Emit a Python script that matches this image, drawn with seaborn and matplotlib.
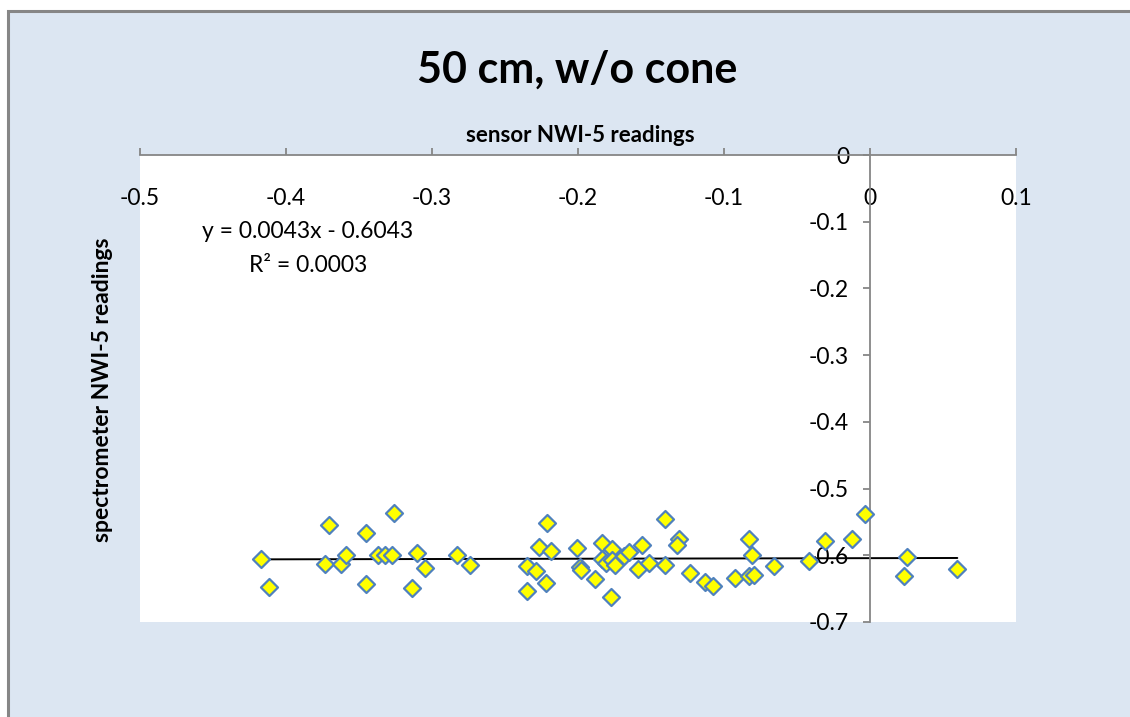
import numpy as np
import pandas as pd
import seaborn as sns
import matplotlib.pyplot as plt
from matplotlib.patches import Rectangle

sns.set_style('white')
plt.rcParams['font.family'] = ['Lato', 'DejaVu Sans']
plt.rcParams['axes.unicode_minus'] = False
plt.rcParams.update({'text.color': 'black', 'xtick.color': 'black', 'ytick.color': 'black'})

# sensor vs spectrometer readings
sensor = [-0.417, -0.4116, -0.3708, -0.373, -0.3625, -0.359, -0.3455, -0.3455,
          -0.3367, -0.332, -0.3274, -0.3263, -0.310, -0.305, -0.3137, -0.2829,
          -0.274, -0.2351, -0.2351, -0.2288, -0.2269, -0.2214, -0.2219, -0.2183,
          -0.2004, -0.1986, -0.1979, -0.1884, -0.1836, -0.1836, -0.1808, -0.1771,
          -0.1767, -0.1765, -0.1747, -0.1685, -0.165, -0.1589, -0.1559, -0.1514,
          -0.1404, -0.1402, -0.1306, -0.132, -0.1231, -0.1130, -0.1073, -0.0927,
          -0.0829, -0.0808, -0.0831, -0.0792, -0.0660, -0.0420, -0.0306, -0.0125,
          -0.0032, 0.0251, 0.0235, 0.0598]
spectro = [-0.606, -0.647, -0.555, -0.613, -0.613, -0.599, -0.567, -0.643,
           -0.600, -0.600, -0.599, -0.537, -0.597, -0.619, -0.649, -0.600,
           -0.615, -0.616, -0.653, -0.623, -0.588, -0.551, -0.641, -0.594,
           -0.589, -0.618, -0.622, -0.636, -0.581, -0.605, -0.611, -0.663,
           -0.591, -0.607, -0.614, -0.601, -0.595, -0.620, -0.584, -0.611,
           -0.545, -0.615, -0.575, -0.584, -0.626, -0.640, -0.646, -0.634,
           -0.575, -0.599, -0.631, -0.630, -0.616, -0.609, -0.579, -0.575,
           -0.538, -0.602, -0.631, -0.621]
slope, intercept, r2 = 0.0043, -0.6043, 0.0003
xticks = [-0.5, -0.4, -0.3, -0.2, -0.1, 0, 0.1]
yticks = [-0.7, -0.6, -0.5, -0.4, -0.3, -0.2, -0.1, 0]

df = pd.DataFrame({'sensor': sensor, 'spectro': spectro})

W, H = 1130, 717
fig = plt.figure(figsize=(W / 100, H / 100), dpi=100, facecolor='white')
fig.patches.append(Rectangle((8 / W, -0.1), 1.1, 1.1 - 11 / H, transform=fig.transFigure,
                             facecolor='#dce6f2', edgecolor='#868686', lw=2.2, zorder=-5))

ax = fig.add_axes([140 / W, 1 - 622 / H, 876 / W, 467 / H])
ax.set_zorder(2)
ax.set_facecolor('white')

sns.scatterplot(data=df, x='sensor', y='spectro', ax=ax, marker='D', s=75,
                color='#ffff00', edgecolor='#4f81bd', linewidth=1.6, zorder=3)

xs = np.array([min(sensor), max(sensor)])
ax.plot(xs, slope * xs + intercept, color='black', lw=1.4, zorder=2)

ax.set_xlim(-0.5, 0.1)
ax.set_ylim(-0.7, 0)
ax.set_xticks(xticks)
ax.set_yticks(yticks)
ax.set_xticklabels([f'{v:g}' for v in xticks])
ax.set_yticklabels([f'{v:g}' for v in yticks])

for s in ['right', 'bottom']:
    ax.spines[s].set_visible(False)
ax.spines['left'].set_position(('data', 0))
for s in ['left', 'top']:
    ax.spines[s].set_color('#868686')
    ax.spines[s].set_linewidth(1.3)

ax.tick_params(axis='x', top=True, bottom=False, labeltop=True, labelbottom=False,
               direction='out', length=5, width=1.3, color='#868686',
               pad=-44, labelsize=16.5)
ax.tick_params(axis='y', left=True, direction='out', length=5, width=1.3,
               color='#868686', pad=10, labelsize=16.5)

ax.set_xlabel('')
ax.set_ylabel('')
fig.text(577 / W, 1 - 70 / H, '50 cm, w/o cone', ha='center', va='center',
         fontsize=31, fontweight='bold')
fig.text(580 / W, 1 - 135 / H, 'sensor NWI-5 readings', ha='center', va='center',
         fontsize=16, fontweight='bold')
fig.text(103 / W, 1 - 390 / H, 'spectrometer NWI-5 readings', ha='center', va='center',
         rotation=90, fontsize=16.5, fontweight='bold')

ax.text(308 / W, 1 - 232 / H, f'y = {slope}x - {abs(intercept)}', transform=fig.transFigure,
        ha='center', va='center', fontsize=16.5)
ax.text(308 / W, 1 - 265 / H, f'R² = {r2:.4f}', transform=fig.transFigure,
        ha='center', va='center', fontsize=16.5)

fig.savefig('out.png', dpi=100, facecolor='white')
